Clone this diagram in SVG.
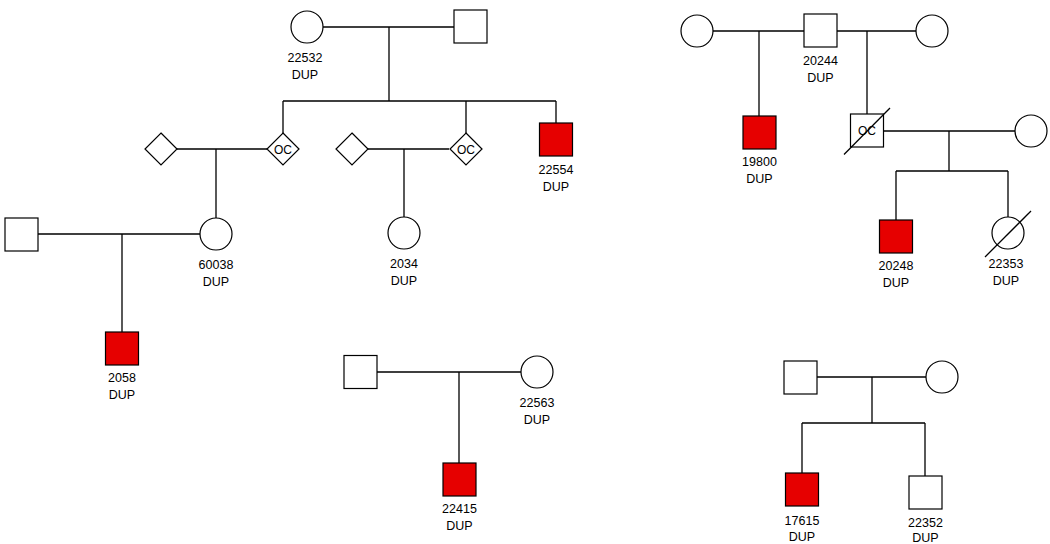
<svg xmlns="http://www.w3.org/2000/svg" width="1050" height="544" viewBox="0 0 1050 544">
<style>
.s{fill:#fff;stroke:#000;stroke-width:1.2}
.a{fill:#e60000;stroke:#000;stroke-width:1.2}
.l{fill:none;stroke:#000;stroke-width:1.3}
.t{font-family:"Liberation Sans",Arial,sans-serif;font-size:12.5px;fill:#000;text-anchor:middle}
.oc{font-family:"Liberation Sans",Arial,sans-serif;font-size:12px;fill:#000;text-anchor:middle}
</style>
<rect width="1050" height="544" fill="#fff"/>
<g id="connectors">
<path class="l" d="M323 27H454M389 27V101M283 101H556M283 101V133M466 101V133M556 101V123"/>
<path class="l" d="M368 149H449M404 149V217"/>
<path class="l" d="M177 149H267M216 149V218"/>
<path class="l" d="M38 234H200M122 234V332"/>
<path class="l" d="M713 31H804M759 31V116M837 31H916M867 31V114"/>
<path class="l" d="M883 131H1015M949 131V171M896 171H1008M896 171V220M1008 171V217"/>
<path class="l" d="M377 372H521M459 372V463"/>
<path class="l" d="M817 377H926M872 377V423M802 423H925M802 423V473M925 423V476"/>
</g>

<g id="n22532"><circle class="s" cx="307" cy="27" r="16"/><text class="t" x="305" y="62">22532</text><text class="t" x="305" y="79">DUP</text></g>
<g id="nTopSq"><rect class="s" x="454" y="10" width="33" height="33"/></g>
<g id="nOC1"><polygon class="s" points="283,133 299,149 283,165 267,149"/><text class="oc" x="283" y="153.5">OC</text></g>
<g id="nOC2"><polygon class="s" points="466,133 482,149 466,165 450,149"/><text class="oc" x="466" y="153.5">OC</text></g>
<g id="n22554"><rect class="a" x="539.5" y="123" width="33" height="33"/><text class="t" x="556" y="173.5">22554</text><text class="t" x="556" y="190.5">DUP</text></g>
<g id="nDiamL"><polygon class="s" points="161,133 177,149 161,165 145,149"/></g>
<g id="nDiamM"><polygon class="s" points="352,133 368,149 352,165 336,149"/></g>
<g id="n2034"><circle class="s" cx="404" cy="233" r="16"/><text class="t" x="404" y="267.5">2034</text><text class="t" x="404" y="284.5">DUP</text></g>
<g id="n60038"><circle class="s" cx="216" cy="234" r="16"/><text class="t" x="216" y="268.5">60038</text><text class="t" x="216" y="286">DUP</text></g>
<g id="nLeftSq"><rect class="s" x="5" y="218" width="33" height="33"/></g>
<g id="n2058"><rect class="a" x="105.5" y="332" width="33" height="33"/><text class="t" x="122" y="381.5">2058</text><text class="t" x="122" y="398.5">DUP</text></g>

<g id="nTRc1"><circle class="s" cx="697" cy="31" r="16"/></g>
<g id="n20244"><rect class="s" x="804" y="14" width="33" height="33"/><text class="t" x="820.5" y="65">20244</text><text class="t" x="820.5" y="82">DUP</text></g>
<g id="nTRc2"><circle class="s" cx="932" cy="31" r="16"/></g>
<g id="n19800"><rect class="a" x="743" y="116" width="33" height="33"/><text class="t" x="759.5" y="166">19800</text><text class="t" x="759.5" y="183">DUP</text></g>
<g id="nOC3"><rect class="s" x="850.5" y="114" width="33" height="33"/><text class="oc" x="867" y="135">OC</text><line class="l" x1="844" y1="154.5" x2="890" y2="108"/></g>
<g id="nTRc3"><circle class="s" cx="1031" cy="131" r="16"/></g>
<g id="n20248"><rect class="a" x="879.5" y="220" width="33" height="33"/><text class="t" x="896" y="270">20248</text><text class="t" x="896" y="287">DUP</text></g>
<g id="n22353"><circle class="s" cx="1008" cy="233" r="16"/><line class="l" x1="985" y1="257" x2="1031" y2="211"/><text class="t" x="1006" y="267.5">22353</text><text class="t" x="1006" y="284.5">DUP</text></g>

<g id="nBMsq"><rect class="s" x="344" y="355.5" width="33" height="33"/></g>
<g id="n22563"><circle class="s" cx="537" cy="372" r="16"/><text class="t" x="537" y="406.5">22563</text><text class="t" x="537" y="424">DUP</text></g>
<g id="n22415"><rect class="a" x="443" y="463" width="33" height="33"/><text class="t" x="459.5" y="513">22415</text><text class="t" x="459.5" y="530">DUP</text></g>

<g id="nBRsq"><rect class="s" x="784" y="361" width="33" height="33"/></g>
<g id="nBRc"><circle class="s" cx="942" cy="377" r="16"/></g>
<g id="n17615"><rect class="a" x="785.5" y="473" width="33" height="33"/><text class="t" x="802" y="525">17615</text><text class="t" x="802" y="541">DUP</text></g>
<g id="n22352"><rect class="s" x="909" y="476" width="33" height="33"/><text class="t" x="925.5" y="526.5">22352</text><text class="t" x="925.5" y="541.5">DUP</text></g>
</svg>
